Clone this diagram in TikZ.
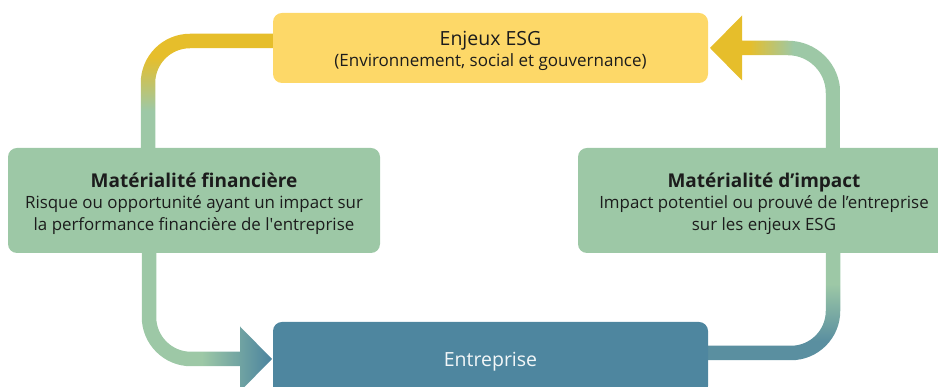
\documentclass[tikz,border=0pt]{standalone}
\usepackage{fontspec}
\setmainfont{Open Sans}
\newfontfamily\plainfont{Open Sans}[Ligatures=ResetAll]
\definecolor{boxyellow}{HTML}{FDD868}
\definecolor{pipeyellow}{HTML}{E6BE2B}
\definecolor{boxgreen}{HTML}{9DC8A6}
\definecolor{boxblue}{HTML}{4E869F}
\definecolor{pipeblue}{HTML}{5A8FA0}
\definecolor{txt}{HTML}{1C1C1C}
\pgfdeclareverticalshading{shLT}{100bp}{color(0bp)=(boxgreen); color(52bp)=(boxgreen); color(68bp)=(pipeyellow); color(100bp)=(pipeyellow)}
\pgfdeclarehorizontalshading{shRT}{100bp}{color(0bp)=(pipeyellow); color(40bp)=(pipeyellow); color(57bp)=(boxgreen); color(100bp)=(boxgreen)}
\pgfdeclarehorizontalshading{shLB}{100bp}{color(0bp)=(boxgreen); color(48bp)=(boxgreen); color(74bp)=(boxblue); color(100bp)=(boxblue)}
\pgfdeclareverticalshading{shRB}{100bp}{color(0bp)=(pipeblue); color(31bp)=(pipeblue); color(49bp)=(boxgreen); color(100bp)=(boxgreen)}
\tikzset{
  card/.style={rounded corners=9pt, inner sep=0pt},
  label text/.style={inner sep=0pt, align=center, text=txt},
  bodyfont/.style={font=\fontsize{16.9}{21.5}\selectfont},
}
\newcommand{\ttl}[1]{{\fontsize{19}{21.5}\selectfont\bfseries #1}}
\begin{document}
\begin{tikzpicture}[x=1pt,y=1pt]
\useasboundingbox (0,0) rectangle (938,387);
% pipes
\path[shading=shLT] (140.75,186) -- (140.75,304) arc[start angle=180,end angle=90,radius=49.25]
  -- (280,353.25) -- (280,338.75) -- (190,338.75) arc[start angle=90,end angle=180,radius=34.75]
  -- (155.25,186) -- cycle;
\path[shading=shRT] (710,339) -- (742,371.5) -- (742,346.25) -- (788,346.25)
  arc[start angle=90,end angle=0,radius=52.25] -- (840.25,186) -- (825.75,186) -- (825.75,294)
  arc[start angle=0,end angle=90,radius=37.75] -- (742,331.75) -- (742,306.5) -- cycle;
\path[shading=shLB] (141.75,186) -- (141.75,70) arc[start angle=180,end angle=270,radius=49.25]
  -- (240,20.75) -- (240,-4.5) -- (272,28) -- (240,60.5) -- (240,35.25) -- (191,35.25)
  arc[start angle=270,end angle=180,radius=34.75] -- (156.25,186) -- cycle;
\path[shading=shRB] (700,26.75) -- (791,26.75) arc[start angle=270,end angle=360,radius=49.25]
  -- (840.25,186) -- (825.75,186) -- (825.75,76) arc[start angle=0,end angle=-90,radius=34.75]
  -- (700,41.25) -- cycle;
% boxes
\node[card, fill=boxyellow, minimum width=435pt, minimum height=70pt] (esg) at (490.5,339) {};
\node[card, fill=boxgreen, minimum width=372pt, minimum height=105pt] (fin) at (194,186.5) {};
\node[card, fill=boxgreen, minimum width=372pt, minimum height=105pt] (imp) at (764,186.5) {};
\node[card, fill=boxblue, minimum width=435pt, minimum height=73pt] (ent) at (490.5,28.5) {};
% texts
\node[label text, font=\fontsize{17}{20.5}\selectfont] (esg-t) at ([yshift=-3pt]esg.center)
  {{\fontsize{19.5}{20.5}\selectfont Enjeux ESG}\\(Environnement, social et gouvernance)};
\node[label text, bodyfont] (fin-t) at ([yshift=-3pt]fin.center)
  {\ttl{Matérialité financière}\\Risque ou opportunité ayant un impact sur\\la performance financière de l{\plainfont\char"27}entreprise};
\node[label text, bodyfont] (imp-t) at ([yshift=-3pt]imp.center)
  {\ttl{Matérialité d’impact}\\Impact potentiel ou prouvé de l’entreprise\\sur les enjeux ESG};
\node[label text, text=white!93!boxblue, font=\fontsize{19.5}{20}\selectfont] (ent-t)
  at ([yshift=-3pt]ent.center) {Entreprise};
\end{tikzpicture}
\end{document}
